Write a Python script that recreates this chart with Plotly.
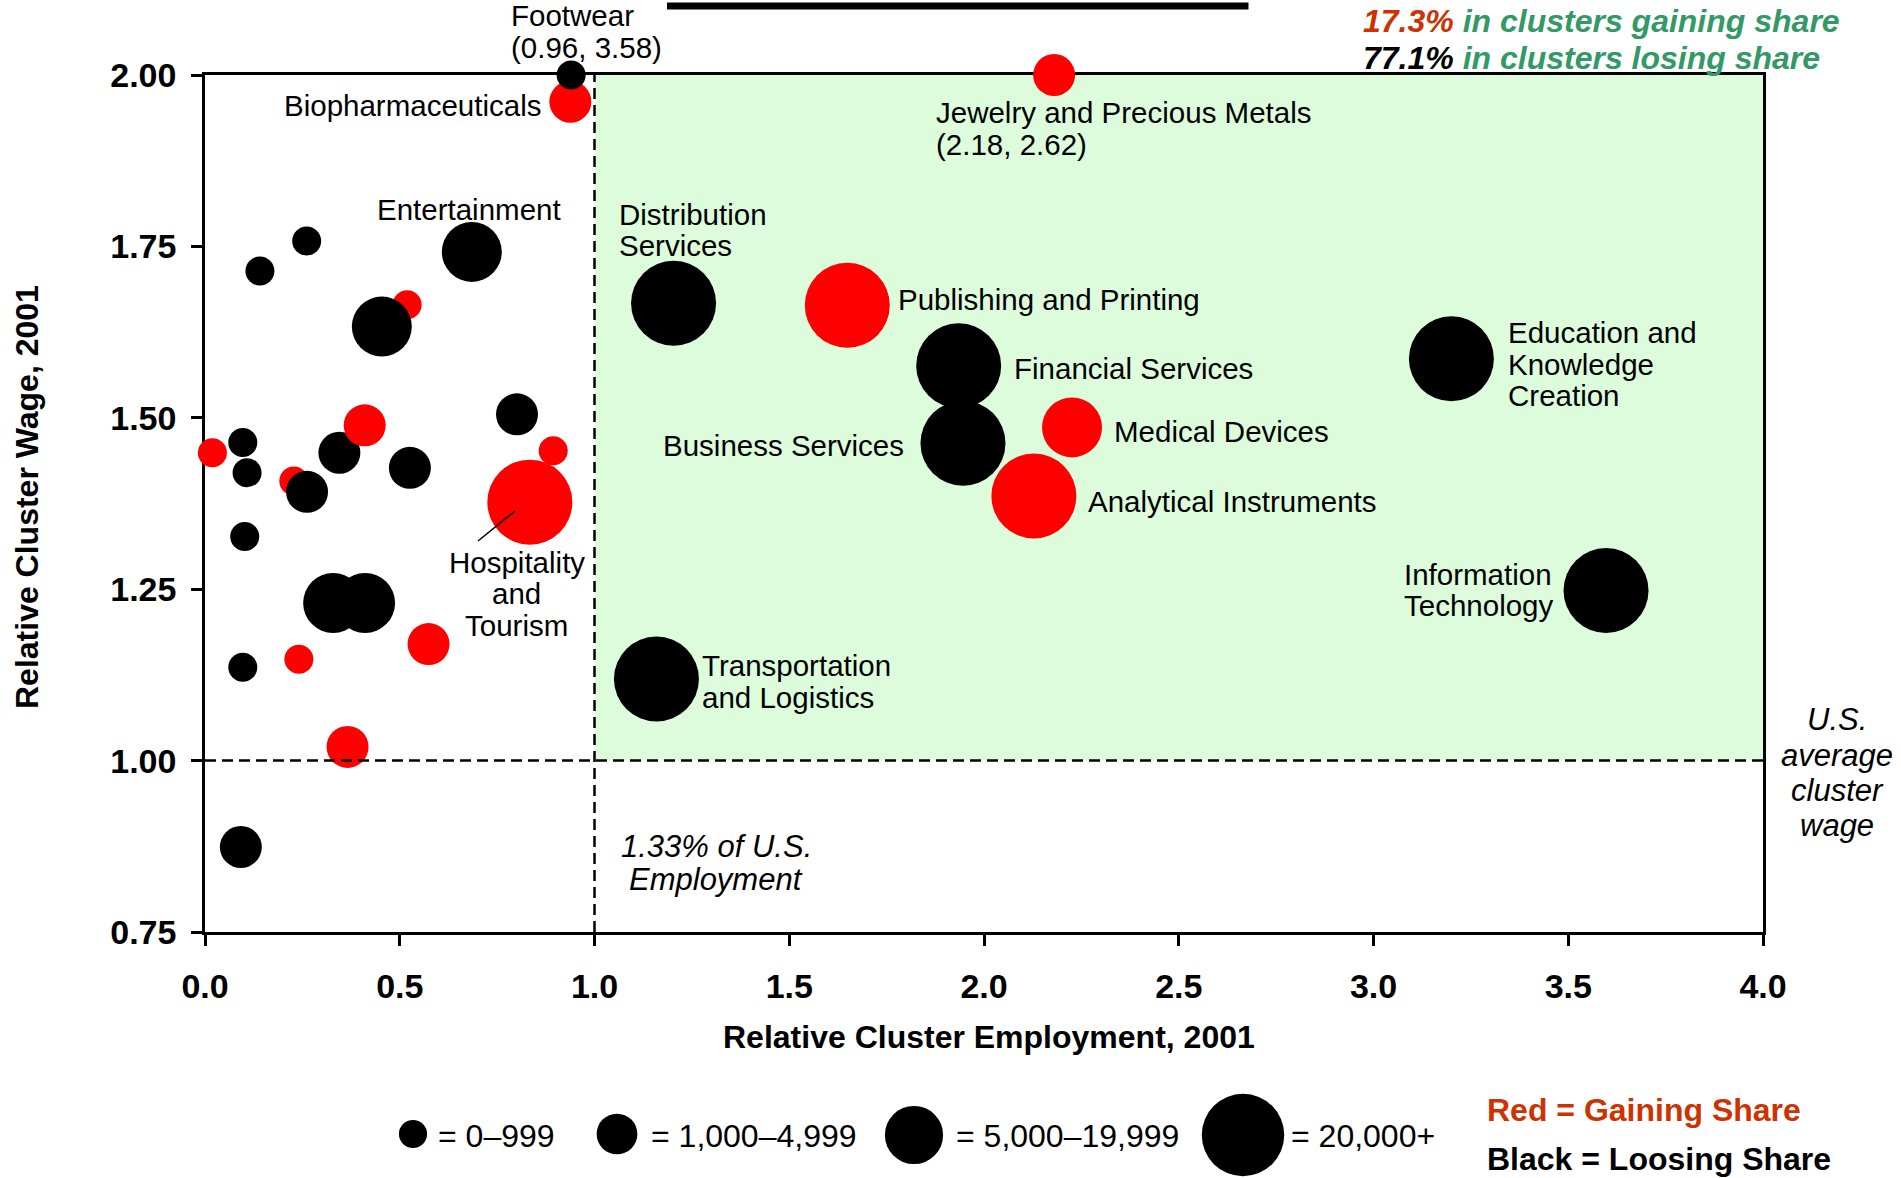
import plotly.graph_objects as go

# ---------------- DATA ----------------
cluster = [
    "", "", "", "", "Biopharmaceuticals", "Footwear", "Jewelry and Precious Metals",
    "Entertainment", "", "", "", "", "", "", "", "", "", "", "", "", "", "",
    "Hospitality and Tourism", "", "", "", "",
    "Distribution Services", "Publishing and Printing", "Financial Services",
    "Business Services", "Medical Devices", "Analytical Instruments",
    "Education and Knowledge Creation", "Information Technology",
    "Transportation and Logistics",
]
rel_emp = [
    0.519, 0.228, 0.345, 0.894, 0.938, 0.940, 2.180,
    0.685, 0.261, 0.141, 0.454, 0.801, 0.410, 0.019, 0.097, 0.108, 0.526, 0.262,
    0.102, 0.329, 0.411, 0.574,
    0.834, 0.241, 0.097, 0.366, 0.092,
    1.203, 1.649, 1.935,
    1.946, 2.226, 2.128,
    3.200, 3.597,
    1.159,
]
# wages above 2.00 are shown capped at the top of the chart (actual values in labels)
rel_wage = [
    1.665, 1.408, 1.449, 1.452, 1.961, 2.000, 2.000,
    1.742, 1.758, 1.714, 1.633, 1.505, 1.489, 1.449, 1.464, 1.420, 1.427, 1.392,
    1.327, 1.230, 1.230, 1.170,
    1.377, 1.148, 1.136, 1.020, 0.874,
    1.667, 1.664, 1.576,
    1.463, 1.486, 1.386,
    1.586, 1.248,
    1.119,
]
# employment size class: 0 = 0-999, 1 = 1,000-4,999, 2 = 5,000-19,999, 3 = 20,000+
size_class = [
    0, 0, 1, 0, 1, 0, 1,
    2, 0, 0, 2, 1, 1, 0, 0, 0, 1, 1,
    0, 2, 2, 1,
    3, 0, 0, 1, 1,
    3, 3, 3,
    3, 2, 3,
    3, 3,
    3,
]
share_trend = [
    "gain", "gain", "lose", "gain", "gain", "lose", "gain",
    "lose", "lose", "lose", "lose", "lose", "gain", "gain", "lose", "lose", "lose", "lose",
    "lose", "lose", "lose", "gain",
    "gain", "gain", "lose", "gain", "lose",
    "lose", "gain", "lose",
    "lose", "gain", "gain",
    "lose", "lose",
    "lose",
]

footwear_actual = (0.96, 3.58)
jewelry_actual = (2.18, 2.62)
size_class_labels = ["0–999", "1,000–4,999", "5,000–19,999", "20,000+"]
x_ticks = [0.0, 0.5, 1.0, 1.5, 2.0, 2.5, 3.0, 3.5, 4.0]
y_ticks = [0.75, 1.00, 1.25, 1.50, 1.75, 2.00]
pct_gaining = "17.3%"
pct_losing = "77.1%"
us_emp_share = "1.33%"

# ---------------- STYLE ----------------
FONT = "Liberation Sans, Arial, Helvetica, sans-serif"
SIZE_PX = [29, 42, 60, 85]
COLORS = {"gain": "#FF0000", "lose": "#000000"}
ORANGE = "#CC3300"
GREEN = "#339966"
W, H = 1901, 1178
L, R, T, B = 205, 1763, 75, 932
LBL = 29.5


def pp(px, py):
    return (px - L) / (R - L), (B - py) / (B - T)


fig = go.Figure()
fig.add_trace(go.Scatter(
    x=rel_emp, y=rel_wage, mode="markers",
    text=cluster, hoverinfo="text+x+y",
    marker=dict(size=[SIZE_PX[s] for s in size_class],
                color=[COLORS[t] for t in share_trend],
                line=dict(width=0), opacity=1),
    cliponaxis=False, showlegend=False,
))

shapes = [
    dict(type="rect", xref="x", yref="y", x0=1.0, x1=4.0, y0=1.0, y1=2.0,
         fillcolor="#DCFCDC", line=dict(width=0), layer="below"),
    dict(type="line", xref="x", yref="y", x0=1.0, x1=1.0, y0=0.75, y1=2.0,
         line=dict(color="black", width=2.5, dash="11px,6px"), layer="above"),
    dict(type="line", xref="x", yref="y", x0=0.0, x1=4.0, y0=1.0, y1=1.0,
         line=dict(color="black", width=2.5, dash="11px,6px"), layer="above"),
]
# leader line for Hospitality
a = pp(478, 541)
b = pp(515, 511)
shapes.append(dict(type="line", xref="paper", yref="paper", x0=a[0], y0=a[1], x1=b[0], y1=b[1],
                   line=dict(color="black", width=1.5)))
# title underline bar (cut-off title)
a = pp(667, 2.5)
b = pp(1248.5, 9.5)
shapes.append(dict(type="rect", xref="paper", yref="paper", x0=a[0], y0=a[1], x1=b[0], y1=b[1],
                   fillcolor="black", line=dict(width=0)))

# size legend circles
legend_centers = [(413, 1134), (617, 1134), (914, 1135), (1243, 1135)]
legend_text_x = [437, 650, 955, 1290]
for k, (cx, cy) in enumerate(legend_centers):
    ax, ay = pp(cx, cy)
    d = SIZE_PX[k] * 0.97
    shapes.append(dict(type="circle", xref="paper", yref="paper",
                       xsizemode="pixel", ysizemode="pixel",
                       xanchor=ax, yanchor=ay, x0=-d / 2, x1=d / 2, y0=-d / 2, y1=d / 2,
                       fillcolor="black", line=dict(width=0)))

annotations = []


def ann(text, px, py, xanchor="left", size=LBL, color="black", textangle=0):
    x, y = pp(px, py)
    annotations.append(dict(text=text, x=x, y=y, xref="paper", yref="paper",
                            xanchor=xanchor, yanchor="middle", showarrow=False,
                            textangle=textangle, borderpad=0,
                            font=dict(family=FONT, size=size, color=color)))


labels = [
    ("Footwear", 510, 16, "left"),
    ("(%.2f, %.2f)" % footwear_actual, 510, 47, "left"),
    ("Biopharmaceuticals", 542, 105.5, "right"),
    ("Jewelry and Precious Metals", 935, 112.5, "left"),
    ("(%.2f, %.2f)" % jewelry_actual, 935, 144, "left"),
    ("Entertainment", 469, 209.5, "center"),
    ("Distribution", 618, 214.5, "left"),
    ("Services", 618, 246, "left"),
    ("Publishing and Printing", 897, 299.5, "left"),
    ("Financial Services", 1013, 368, "left"),
    ("Education and", 1507, 332.5, "left"),
    ("Knowledge", 1507, 364, "left"),
    ("Creation", 1507, 395.5, "left"),
    ("Business Services", 904.5, 446, "right"),
    ("Medical Devices", 1113, 431, "left"),
    ("Analytical Instruments", 1087, 501, "left"),
    ("Hospitality", 516.5, 562.5, "center"),
    ("and", 516.5, 594, "center"),
    ("Tourism", 516.5, 625.5, "center"),
    ("Information", 1403, 574, "left"),
    ("Technology", 1403, 605, "left"),
    ("Transportation", 701, 665, "left"),
    ("and Logistics", 701, 697, "left"),
]
for t, px, py, xa in labels:
    ann(t, px, py, xa)

ann("<i>%s of U.S.</i>" % us_emp_share, 716, 846, "center", 31)
ann("<i>Employment</i>", 716, 879, "center", 31)
for t, py in zip(["U.S.", "average", "cluster", "wage"], [719.5, 755, 790, 825]):
    ann("<i>%s</i>" % t, 1837, py, "center", 31)

ann("<b><i><span style='color:%s'>%s</span> in clusters gaining share</i></b>" % (ORANGE, pct_gaining),
    1362, 21, "left", 32, GREEN)
ann("<b><i><span style='color:black'>%s</span> in clusters losing share</i></b>" % pct_losing,
    1362, 57.5, "left", 32, GREEN)

for k, tx in enumerate(legend_text_x):
    ann("= " + size_class_labels[k], tx, 1136, "left", 32)
ann("<b>Red = Gaining Share</b>", 1486, 1110, "left", 32, ORANGE)
ann("<b>Black = Loosing Share</b>", 1486, 1159, "left", 32, "black")

ann("<b>Relative Cluster Employment, 2001</b>", 989, 1037, "center", 32)
ann("<b>Relative Cluster Wage, 2001</b>", 27, 497, "center", 32, textangle=-90)

axis_common = dict(
    showline=True, linewidth=2.5, linecolor="black", mirror=True,
    ticks="outside", ticklen=11, tickwidth=2.5, tickcolor="black",
    showgrid=False, zeroline=False, layer="below traces",
    tickfont=dict(family=FONT, size=34, color="black", weight="bold"),
)
fig.update_layout(
    width=W, height=H, autosize=False,
    margin=dict(l=L, r=W - R, t=T, b=H - B, pad=0),
    paper_bgcolor="white", plot_bgcolor="white",
    showlegend=False,
    xaxis=dict(range=[0, 4], tickvals=x_ticks, ticktext=["%.1f" % v for v in x_ticks],
               ticklabelstandoff=11, **axis_common),
    yaxis=dict(range=[0.75, 2.0], tickvals=y_ticks, ticktext=["%.2f" % v for v in y_ticks],
               ticklabelstandoff=8, **axis_common),
    shapes=shapes, annotations=annotations,
    font=dict(family=FONT, color="black"),
)

fig.write_html("out.html", config={"displayModeBar": False},
               post_script="document.body.style.margin='0';document.body.style.overflow='hidden';")
